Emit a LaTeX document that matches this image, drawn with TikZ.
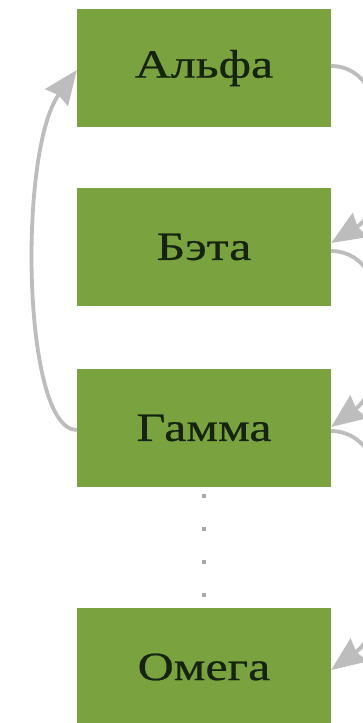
\documentclass[tikz,border=0pt]{standalone}
\usepackage{fontspec}
\setmainfont{Liberation Serif}
\newfontfamily\boxfont[FakeStretch=1.25,FakeBold=0.6]{Liberation Serif}
\usetikzlibrary{arrows.meta}
\definecolor{boxgreen}{HTML}{7AA23F}
\definecolor{txtdark}{HTML}{142410}
\definecolor{arrowgray}{HTML}{BDBDBD}
\definecolor{dotgray}{HTML}{A8A8A8}
\begin{document}
\begin{tikzpicture}[x=1pt,y=-1pt,
  greenbox/.style={fill=boxgreen, draw=none, minimum width=254pt, minimum height=118pt,
     inner sep=0pt, text=txtdark, font=\boxfont\fontsize{40}{44}\selectfont},
  conn/.style={draw=arrowgray, line width=3.8pt,
     -{Stealth[length=34pt,width=28pt,inset=3pt]}}]
\clip (0,0) rectangle (363,723);
\fill[white] (0,0) rectangle (363,723);
\node[greenbox] (alfa) at (204,68) {Альфа};
\node[greenbox] (beta) at (204,247) {Бэта};
\node[greenbox] (gamma) at (204,428) {Гамма};
\node[greenbox] (omega) at (204,667) {Омега};
% right connectors
\draw[conn] ([yshift=2pt]alfa.east) .. controls (398,66) and (392,205) .. ([yshift=4pt]beta.east);
\draw[conn] ([yshift=-4pt]beta.east) .. controls (400,252) and (388,385) .. ([yshift=1pt]gamma.east);
\draw[conn] ([yshift=-3pt]gamma.east) .. controls (410,432) and (400,620) .. ([yshift=-3pt]omega.east);
% left connector
\draw[conn] ([yshift=-2pt]gamma.west) .. controls (22,430) and (18,150) .. ([yshift=-2pt]alfa.west);
% dots
\draw[dotgray, line width=4pt, dash pattern=on 4pt off 29pt, dash phase=26pt]
  (gamma.south) -- (omega.north);
\end{tikzpicture}
\end{document}
